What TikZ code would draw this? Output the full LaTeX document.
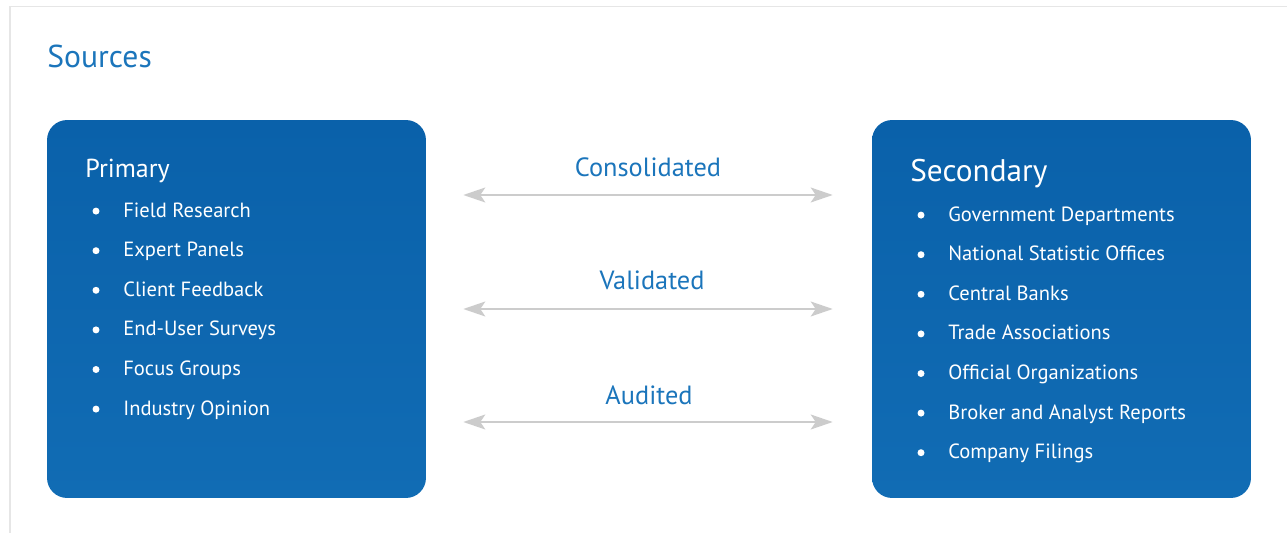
\documentclass[tikz,border=0pt]{standalone}
\usepackage{fontspec}
\setmainfont{PT Sans}
\usepackage{tikz}
\usetikzlibrary{arrows.meta,positioning,calc}

\definecolor{boxblue}{RGB}{17,108,180}
\definecolor{boxdark}{RGB}{10,97,170}
\definecolor{labelblue}{RGB}{27,117,187}
\definecolor{linkgray}{RGB}{204,204,204}
\definecolor{framegray}{RGB}{230,230,230}

\begin{document}
\begin{tikzpicture}[
    x=0.02cm, y=-0.02cm,
    srcbox/.style={rectangle, rounded corners=0.4cm, minimum width=7.58cm, minimum height=7.56cm,
      top color=boxdark, bottom color=boxblue, draw=none, inner sep=0pt},
    head/.style={anchor=base west, inner sep=0pt, text=white},
    item/.style={anchor=base west, inner sep=0pt, text=white, font=\fontsize{11.7}{14}\selectfont},
    dot/.style={circle, fill=white, inner sep=0pt, minimum size=0.14cm},
    tag/.style={anchor=base, inner sep=0pt, text=labelblue, font=\fontsize{15}{18}\selectfont},
    link/.style={{Stealth[length=0.44cm, width=0.3cm, inset=0.1cm]}-{Stealth[length=0.44cm, width=0.3cm, inset=0.1cm]},
      draw=linkgray, line width=0.85pt, shorten <=0.74cm, shorten >=0.78cm},
  ]
    \useasboundingbox (0,0) rectangle (1287,533);
    \draw[framegray, line width=0.8pt] (10,533) -- (10,6.5) -- (1287,6.5);

    % Title
    \node[anchor=base west, inner sep=0pt, text=labelblue, font=\fontsize{18}{22}\selectfont] (title) at (47,68) {Sources};

    % Boxes
    \node[srcbox] (primary) at (236.5,309) {};
    \node[srcbox] (secondary) at (1061.5,309) {};

    % Primary list
    \node[head, font=\fontsize{14.8}{17}\selectfont] (phead) at (85,178) {Primary};
    \foreach \txt [count=\i] in {Field Research, Expert Panels, Client Feedback, End-User Surveys, Focus Groups, Industry Opinion}{
      \node[item] (p\i) at (123,177.5+39.6*\i) {\txt};
      \node[dot] (pd\i) at (96,171.5+39.6*\i) {};
    }

    % Secondary list
    \node[head, font=\fontsize{17.8}{21}\selectfont] (shead) at (910,182) {Secondary};
    \foreach \txt [count=\i] in {Government Departments, National Statistic Offices, Central Banks, Trade Associations, Official Organizations, Broker and Analyst Reports, Company Filings}{
      \node[item] (s\i) at (948,181.5+39.6*\i) {\txt};
      \node[dot] (sd\i) at (921,175.5+39.6*\i) {};
    }

    % Links
    \node[tag] (cons) at (648,177) {Consolidated};
    \node[tag] (vali) at (652,290) {Validated};
    \node[tag] (audi) at (649,404) {Audited};
    \coordinate (r1) at (0,195);
    \coordinate (r2) at (0,309);
    \coordinate (r3) at (0,422);
    \draw[link] (primary.east |- r1) -- (secondary.west |- r1);
    \draw[link] (primary.east |- r2) -- (secondary.west |- r2);
    \draw[link] (primary.east |- r3) -- (secondary.west |- r3);
  \end{tikzpicture}
\end{document}
